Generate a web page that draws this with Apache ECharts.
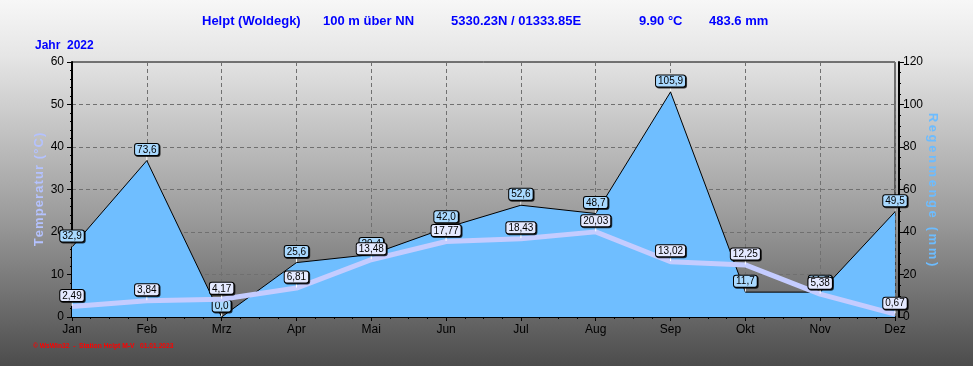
<!DOCTYPE html>
<html><head><meta charset="utf-8">
<script src="https://cdn.jsdelivr.net/npm/echarts@6/dist/echarts.min.js"></script>
<style>html,body{margin:0;padding:0;}#c{width:973px;height:366px;}</style>
</head><body><div id="c"></div>
<script>
var months = ['Jan','Feb','Mrz','Apr','Mai','Jun','Jul','Aug','Sep','Okt','Nov','Dez'];
var rain = [32.9,73.6,0.0,25.6,29.4,42.0,52.6,48.7,105.9,11.7,11.7,49.5];
var temp = [2.49,3.84,4.17,6.81,13.48,17.77,18.43,20.03,13.02,12.25,5.38,0.67];
var leftTicks = [0,10,20,30,40,50,60];
var rightTicks = [0,20,40,60,80,100,120];
var titleParts = ['Helpt (Woldegk)','100 m über NN','5330.23N / 01333.85E','9.90 °C','483.6 mm'];
var yearText = 'Jahr  2022';
var footer = '© WsWin32  -  Station Helpt M-V   01.01.2023';

var chart = echarts.init(document.getElementById('c'), null, {renderer:'canvas'});
var titleX = [202, 323, 451, 639, 709];
var tfont = {fontFamily:'"Liberation Sans",Arial,sans-serif', fontWeight:'bold', fontSize:13, color:'#0000ff'};
var titles = titleParts.map(function(t,i){return {text:t, left:titleX[i], top:15, padding:0, textStyle:tfont};});
titles.push({text:yearText, left:35, top:40, padding:0, textStyle:{fontFamily:tfont.fontFamily, fontWeight:'bold', fontSize:12, color:'#0000ff'}});
titles.push({text:footer, left:33, top:343, padding:0, textStyle:{fontFamily:'"Liberation Sans",sans-serif', fontWeight:'bold', fontSize:6.7, color:'#ff0000'}});

function spaced(s, sp){return s.split('').join(sp);}
function pairs(arr){return arr.map(function(v,i){return [i,v];});}

var lblBase = {show:true, position:'top', distance:0, fontFamily:'"Liberation Sans",Arial,sans-serif', fontSize:10, lineHeight:10, color:'#000',
  borderColor:'#000', borderWidth:1, borderRadius:2, padding:[1,2,0,2],
  shadowColor:'rgba(0,0,0,0.75)', shadowOffsetX:1, shadowOffsetY:1, shadowBlur:0};

chart.setOption({
  animation:false,
  backgroundColor:{type:'linear',x:0,y:0,x2:0,y2:1,colorStops:[{offset:0,color:'#f7f7f7'},{offset:0.15,color:'#e6e6e6'},{offset:0.6,color:'#9a9a9a'},{offset:1,color:'#4c4c4c'}]},
  title:titles,
  grid:{left:72, right:78, top:62, bottom:49, show:true, borderColor:'#000', borderWidth:1, backgroundColor:'transparent'},
  xAxis:{type:'value', min:0, max:11, interval:1,
    axisLine:{show:true, onZero:false, lineStyle:{color:'#000', width:2}},
    axisTick:{show:true, length:4, lineStyle:{color:'#000'}},
    minorTick:{show:true, splitNumber:4, length:2, lineStyle:{color:'#000'}},
    axisLabel:{formatter:function(v){return months[v]||'';}, color:'#000', fontSize:12, fontFamily:'"Liberation Sans",Arial,sans-serif', margin:7},
    splitLine:{show:true, lineStyle:{color:'#707070', type:[4,3], width:1}}
  },
  yAxis:[
    {type:'value', min:0, max:60, interval:10, offset:4, position:'left',
      name:spaced('Temperatur (°C)','\u200A'), nameLocation:'middle', nameGap:22, nameRotate:90, nameMoveOverlap:false,
      nameTextStyle:{color:'#b4c2ff', fontWeight:'bold', fontSize:13, fontFamily:'"Liberation Sans",Arial,sans-serif'},
      axisLine:{show:true, lineStyle:{color:'#000', width:2}},
      axisTick:{show:true, length:5, lineStyle:{color:'#000'}},
      minorTick:{show:true, splitNumber:5, length:2, lineStyle:{color:'#000'}},
      axisLabel:{color:'#000', fontSize:12, fontFamily:'"Liberation Sans",Arial,sans-serif', margin:4,
        formatter:function(v){return leftTicks.indexOf(v)>=0?String(v):'';}},
      splitLine:{show:true, lineStyle:{color:'#707070', type:[4,3], width:1}}
    },
    {type:'value', min:0, max:120, interval:20, offset:4, position:'right',
      name:spaced('Regenmenge (mm)','\u2009'), nameLocation:'middle', nameGap:27, nameRotate:-90, nameMoveOverlap:false,
      nameTextStyle:{color:'#6cbcff', fontWeight:'bold', fontSize:13, fontFamily:'"Liberation Sans",Arial,sans-serif'},
      axisLine:{show:true, lineStyle:{color:'#000', width:2}},
      axisTick:{show:true, length:5, lineStyle:{color:'#000'}},
      minorTick:{show:true, splitNumber:4, length:2, lineStyle:{color:'#000'}},
      axisLabel:{color:'#000', fontSize:12, fontFamily:'"Liberation Sans",Arial,sans-serif', margin:4,
        formatter:function(v){return rightTicks.indexOf(v)>=0?String(v):'';}},
      splitLine:{show:false}
    }
  ],
  series:[
    {type:'line', name:'Regen', yAxisIndex:1, data:pairs(rain), z:2, symbol:'circle', symbolSize:1, showSymbol:true,
      itemStyle:{color:'rgba(0,0,0,0)', borderWidth:0},
      lineStyle:{color:'#000', width:1}, areaStyle:{color:'#6fbeff', opacity:1},
      label:Object.assign({}, lblBase, {backgroundColor:'#a9d9ff', formatter:function(p){return p.value[1].toFixed(1).replace('.',',');}}),
      labelLayout:{dy:-5}, labelLine:{show:true, lineStyle:{color:'#ffffff', width:1}}
    },
    {type:'line', name:'Temp', yAxisIndex:0, data:pairs(temp), z:3, symbol:'circle', symbolSize:1, showSymbol:true,
      itemStyle:{color:'rgba(0,0,0,0)', borderWidth:0},
      lineStyle:{color:'#c4ccff', width:5},
      label:Object.assign({}, lblBase, {backgroundColor:'#e4e9ff', formatter:function(p){return p.value[1].toFixed(2).replace('.',',');}}),
      labelLayout:{dy:-5}, labelLine:{show:true, lineStyle:{color:'#ffffff', width:1}}
    }
  ]
});
</script></body></html>
